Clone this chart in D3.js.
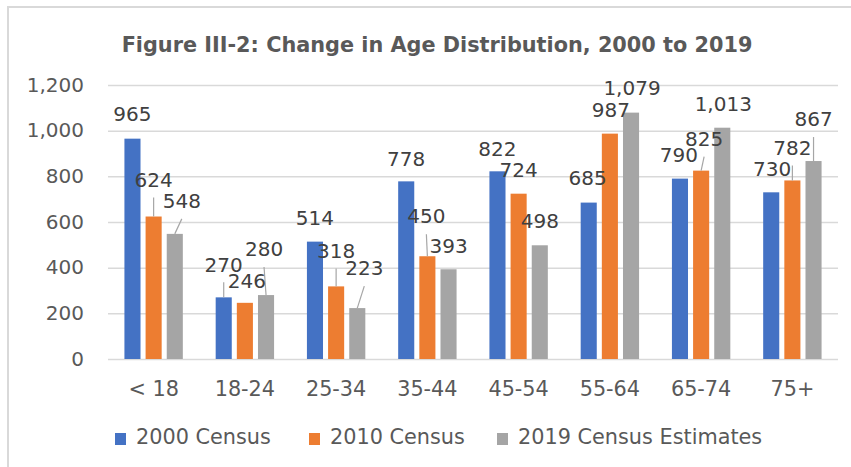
<!DOCTYPE html>
<html>
<head>
<meta charset="utf-8">
<script src="https://cdn.jsdelivr.net/npm/d3@7"></script>
<style>
  body { margin: 0; background: #fff; }
  svg { display: block; font-family: "DejaVu Sans", Verdana, sans-serif; }
</style>
</head>
<body>
<script>
// chart data
const categories = ["< 18", "18-24", "25-34", "35-44", "45-54", "55-64", "65-74", "75+"]
const seriesNames = ["2000 Census", "2010 Census", "2019 Census Estimates"]
const census2000 = [965, 270, 514, 778, 822, 685, 790, 730]
const census2010 = [624, 246, 318, 450, 724, 987, 825, 782]
const estimates2019 = [548, 280, 223, 393, 498, 1079, 1013, 867]
const yTicks = [0, 200, 400, 600, 800, 1000, 1200]
const colors = ["#4472C4", "#ED7D31", "#A5A5A5"]

// label nudges [dx, dy] from the top of each bar (Excel moved some of them)
const nudge2000 = [[0,-25],[0,-33],[0,-24],[0,-23],[0,-23],[-1,-25],[-1,-24],[1,-24]]
const nudge2010 = [[0,-37],[2,-22],[0,-36],[-1,-40],[0,-24],[1,-24],[3,-32],[0,-33]]
const nudge2019 = [[7,-33],[-2,-46],[7,-40],[0,-23],[0,-24],[1,-25],[1,-24],[0,-42]]

const w = 851
const h = 467
const seriesValues = [census2000, census2010, estimates2019]
const nudges = [nudge2000, nudge2010, nudge2019]

const svg = d3.select("body")
        .append("svg")
        .attr("width", w)
        .attr("height", h);

// chart frame (only top and left edges show in the crop)
svg.append("line").attr("x1", 7).attr("x2", w).attr("y1", 7).attr("y2", 7)
        .attr("stroke", "#d9d9d9").attr("stroke-width", 2);
svg.append("line").attr("x1", 8).attr("x2", 8).attr("y1", 7).attr("y2", h)
        .attr("stroke", "#d9d9d9").attr("stroke-width", 2);

// title
svg.append("text")
        .attr("x", 437)
        .attr("y", 52)
        .attr("text-anchor", "middle")
        .attr("font-size", 20.8)
        .attr("font-weight", "bold")
        .attr("fill", "#595959")
        .text("Figure III-2: Change in Age Distribution, 2000 to 2019");

// scales
const x0 = d3.scaleBand()
        .domain(categories)
        .range([108, 838])
        .paddingInner(0.36)
        .paddingOuter(0.18);

const x1 = d3.scaleBand()
        .domain(d3.range(3))
        .range([0, x0.bandwidth()])
        .paddingInner(0.24);

const y = d3.scaleLinear()
        .domain([0, 1200])
        .range([359, 85]);

// gridlines and y labels
const yAxis = d3.axisLeft(y)
        .tickValues(yTicks)
        .tickSize(-(838 - 108))
        .tickPadding(24)
        .tickFormat(d3.format(","));

const gy = svg.append("g")
        .attr("transform", "translate(108,0)")
        .call(yAxis);
gy.select(".domain").remove();
gy.selectAll(".tick line").attr("stroke", "#d9d9d9").attr("stroke-width", 1.5);
gy.selectAll(".tick text")
        .attr("font-family", "DejaVu Sans")
        .attr("font-size", 20)
        .attr("fill", "#595959")
        .attr("dy", "0.3em");

// x labels
const xAxis = d3.axisBottom(x0).tickSize(0).tickPadding(0);
const gx = svg.append("g")
        .attr("transform", "translate(0,359)")
        .call(xAxis);
gx.select(".domain").remove();
gx.selectAll(".tick text")
        .attr("font-family", "DejaVu Sans")
        .attr("font-size", 20.8)
        .attr("fill", "#595959")
        .attr("y", 37)
        .attr("dy", 0);

// bars, one group per series
const barData = [];
seriesValues.forEach((vals, s) => {
    vals.forEach((v, i) => {
        barData.push({ s: s, cat: categories[i], value: v, nudge: nudges[s][i] });
    });
});

const barX = d => x0(d.cat) + x1(d.s);
const barMid = d => barX(d) + x1.bandwidth() / 2;

svg.append("g")
        .selectAll("rect")
        .data(barData)
        .enter()
        .append("rect")
        .attr("x", barX)
        .attr("y", d => y(d.value))
        .attr("width", x1.bandwidth())
        .attr("height", d => y(0) - y(d.value))
        .attr("fill", d => colors[d.s]);

// leader lines for labels that were pulled away from their bar
svg.append("g")
        .selectAll("line")
        .data(barData.filter(d => d.nudge[1] <= -30))
        .enter()
        .append("line")
        .attr("x1", d => barMid(d) + d.nudge[0])
        .attr("y1", d => y(d.value) + d.nudge[1] + 18)
        .attr("x2", d => barMid(d))
        .attr("y2", d => y(d.value))
        .attr("stroke", "#a6a6a6")
        .attr("stroke-width", 1.2);

// data labels
svg.append("g")
        .selectAll("text")
        .data(barData)
        .enter()
        .append("text")
        .attr("x", d => barMid(d) + d.nudge[0])
        .attr("y", d => y(d.value) + d.nudge[1])
        .attr("dy", "0.36em")
        .attr("text-anchor", "middle")
        .attr("font-size", 20)
        .attr("fill", "#404040")
        .text(d => d3.format(",")(d.value));

// legend
const legendX = [115, 309, 497];
const legend = svg.append("g")
        .selectAll("g")
        .data(seriesNames)
        .enter()
        .append("g")
        .attr("transform", (d, i) => `translate(${legendX[i]},0)`);
legend.append("rect")
        .attr("y", 433)
        .attr("width", 11)
        .attr("height", 12)
        .attr("fill", (d, i) => colors[i]);
legend.append("text")
        .attr("x", 21)
        .attr("y", 444)
        .attr("font-size", 20.8)
        .attr("fill", "#595959")
        .text(d => d);
</script>
</body>
</html>
